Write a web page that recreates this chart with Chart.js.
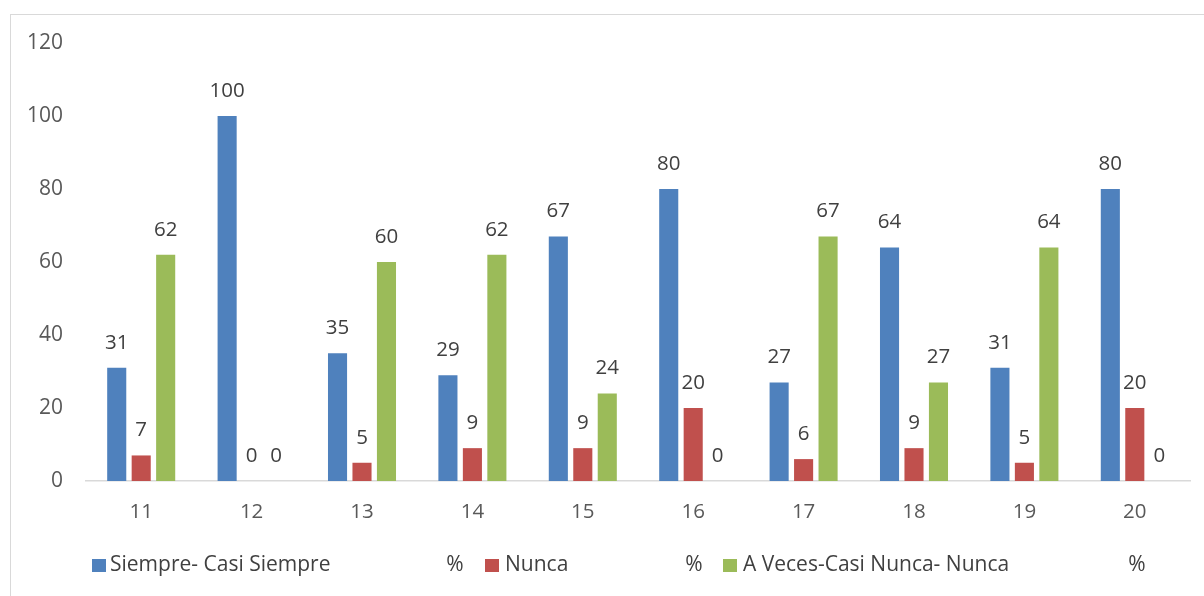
<!DOCTYPE html>
<html>
<head>
<meta charset="utf-8">
<script src="https://cdn.jsdelivr.net/npm/chart.js@4/dist/chart.umd.min.js"></script>
<style>
html,body{margin:0;padding:0;background:#fff;}
#wrap{width:1204px;height:596px;position:relative;}
</style>
</head>
<body>
<div id="wrap"><canvas id="c" width="1204" height="596"></canvas></div>
<script>
const categories = ['11','12','13','14','15','16','17','18','19','20'];
const siempre = [31,100,35,29,67,80,27,64,31,80];
const nunca = [7,0,5,9,9,20,6,9,5,20];
const aVeces = [62,0,60,62,24,0,67,27,64,0];
const seriesNames = ['Siempre- Casi Siempre','Nunca','A Veces-Casi Nunca- Nunca'];
const seriesColors = ['#4f81bd','#c0504d','#9bbb59'];
const yTicks = [0,20,40,60,80,100,120];

const FONT = '"Open Sans", Lato, sans-serif';
const TXT = '#404040';

const frame = {
  id:'frame',
  beforeDraw(chart){
    const ctx = chart.ctx;
    ctx.save();
    ctx.fillStyle = '#fff';
    ctx.fillRect(0,0,chart.width,chart.height);
    ctx.strokeStyle = '#d9d9d9';
    ctx.lineWidth = 1;
    ctx.strokeRect(10.5,14.5,chart.width+20,chart.height+20);
    ctx.restore();
  }
};

const dataLabels = {
  id:'dataLabels',
  afterDatasetsDraw(chart){
    const ctx = chart.ctx;
    ctx.save();
    ctx.font = '20.5px ' + FONT;
    ctx.fillStyle = TXT;
    ctx.textAlign = 'center';
    ctx.textBaseline = 'middle';
    chart.data.datasets.forEach((ds,i)=>{
      const meta = chart.getDatasetMeta(i);
      meta.data.forEach((bar,j)=>{
        ctx.fillText(String(ds.data[j]), bar.x, bar.y - 25);
      });
    });
    ctx.restore();
  }
};

const customLegend = {
  id:'customLegend',
  afterDraw(chart){
    const ctx = chart.ctx;
    const y = 565;
    const boxX = [92,485,723];
    const textGap = [18,20,20];
    const pctX = [455,694,1137];
    ctx.save();
    ctx.font = '21px ' + FONT;
    ctx.textBaseline = 'middle';
    seriesNames.forEach((n,i)=>{
      ctx.fillStyle = seriesColors[i];
      ctx.fillRect(boxX[i], y-6, 14, 13);
      ctx.fillStyle = TXT;
      ctx.textAlign = 'left';
      ctx.fillText(n, boxX[i]+textGap[i], y);
      ctx.textAlign = 'center';
      ctx.fillText('%', pctX[i], y);
    });
    ctx.restore();
  }
};

new Chart(document.getElementById('c'), {
  type:'bar',
  data:{
    labels: categories,
    datasets:[
      {label:seriesNames[0], data:siempre, backgroundColor:seriesColors[0]},
      {label:seriesNames[1], data:nunca, backgroundColor:seriesColors[1]},
      {label:seriesNames[2], data:aVeces, backgroundColor:seriesColors[2]}
    ]
  },
  options:{
    responsive:false,
    animation:false,
    devicePixelRatio:1,
    datasets:{bar:{categoryPercentage:0.665, barPercentage:0.78}},
    layout:{padding:{top:43,right:14,bottom:0,left:0}},
    plugins:{legend:{display:false}, tooltip:{enabled:false}},
    scales:{
      x:{
        grid:{display:false, drawTicks:false},
        border:{display:true,color:'#d9d9d9',width:1.5},
        ticks:{color:'#595959',font:{family:FONT,size:20.5},padding:19},
        afterFit(s){ s.height = 115; }
      },
      y:{
        min:0,max:120,
        grid:{display:false, drawTicks:false},
        border:{display:false},
        afterBuildTicks(s){ s.ticks = yTicks.map(v=>({value:v})); },
        ticks:{color:'#595959',font:{family:FONT,size:21},padding:23},
        afterFit(s){ s.width = 86; }
      }
    }
  },
  plugins:[frame,dataLabels,customLegend]
});
</script>
</body>
</html>
